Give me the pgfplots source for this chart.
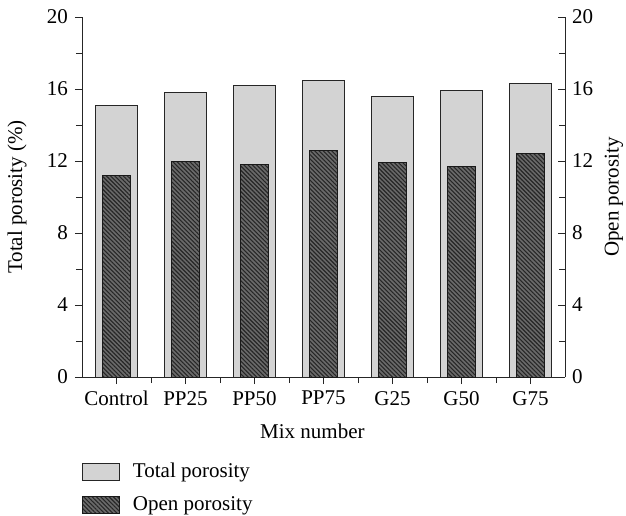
\documentclass[border=0pt]{standalone}
\usepackage{pgfplots}
\pgfplotsset{compat=1.18}
\usetikzlibrary{patterns,patterns.meta}
\usepackage{fontspec}
\setmainfont{Liberation Serif}
\definecolor{lightbar}{HTML}{D3D3D3}
\definecolor{darkbar}{HTML}{6A6A6A}
\begin{document}
\fontsize{21}{25}\selectfont
\begin{tikzpicture}
\useasboundingbox (-82pt,-138pt) rectangle (544pt,377pt);
\begin{axis}[
  width=483pt, height=360pt, scale only axis,
  xmin=-0.5, xmax=6.5, ymin=0, ymax=20,
  axis y line*=left, axis x line*=bottom,
  axis line style={-, line width=0.8pt, black!85},
  xtick={0,...,6}, xticklabels={Control,PP25,PP50,PP75,G25,G50,G75},
  minor xtick={0.5,1.5,...,5.5},
  ytick={0,4,...,20}, minor ytick={2,6,...,18},
  tick align=outside, major tick length=7pt, minor tick length=6pt,
  tick style={black!85, line width=0.8pt},
  /pgf/number format/assume math mode=true,
  ticklabel style={font=\fontsize{21}{25}\selectfont},
  xlabel={Mix number}, ylabel={Total porosity (\%)},
  label style={font=\fontsize{21}{25}\selectfont},
  xlabel style={at={(axis description cs:0.477,-0.152)}, anchor=center},
  ylabel style={at={(axis description cs:-0.1346,0.5)}, anchor=center},
  legend style={at={(axis description cs:0,-0.232)}, anchor=north west, draw=none, fill=none,
    inner sep=0pt, row sep=12pt, font=\fontsize{21}{25}\selectfont, cells={anchor=west}},
  legend cell align=left,
  legend image code/.code={\draw[#1] (0pt,-8.5pt) rectangle (37pt,8.5pt); \path (48pt,0pt);},
]
\addplot[ybar, bar width=0.6, bar shift=0pt, fill=lightbar, draw=black!85, line width=0.8pt]
  coordinates {(0,15.1) (1,15.8) (2,16.2) (3,16.5) (4,15.6) (5,15.9) (6,16.3)};
\addlegendentry{Total porosity}
\addplot[ybar, bar width=0.41, bar shift=0pt, fill=darkbar, draw=black!90, line width=0.8pt,
  postaction={pattern={Lines[angle=-45, distance=3pt, line width=1.1pt]}, pattern color=black!85}]
  coordinates {(0,11.2) (1,12.0) (2,11.8) (3,12.6) (4,11.9) (5,11.7) (6,12.4)};
\addlegendentry{Open porosity}
\end{axis}
\begin{axis}[
  width=483pt, height=360pt, scale only axis,
  xmin=-0.5, xmax=6.5, ymin=0, ymax=20,
  axis y line*=right, axis x line=none,
  axis line style={-, line width=0.8pt, black!85},
  ytick={0,4,...,20}, minor ytick={2,6,...,18},
  tick align=inside, major tick length=7pt, minor tick length=6pt,
  tick style={black!85, line width=0.8pt},
  /pgf/number format/assume math mode=true,
  ticklabel style={font=\fontsize{21}{25}\selectfont},
  ylabel={Open porosity},
  label style={font=\fontsize{21}{25}\selectfont},
  ylabel style={at={(axis description cs:1.1014,0.5)}, anchor=center, rotate=0},
]
\end{axis}
\end{tikzpicture}
\end{document}
